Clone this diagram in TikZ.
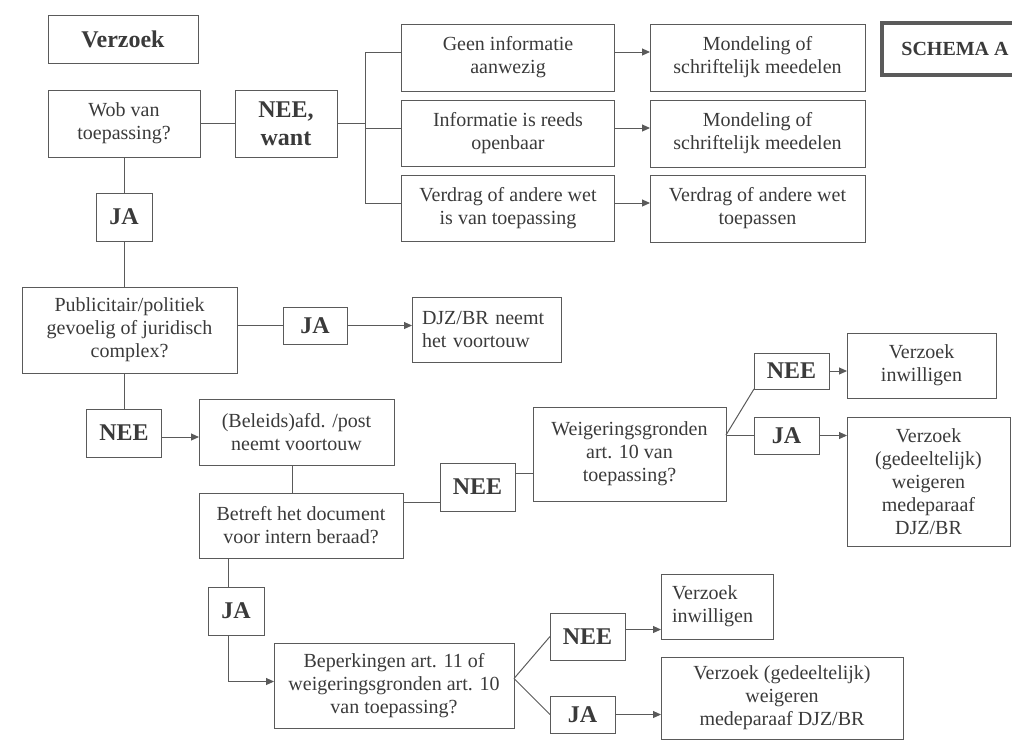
\documentclass[tikz,border=0pt]{standalone}
\usepackage{fontspec}
\setmainfont{Liberation Serif}
\usetikzlibrary{arrows.meta,calc}
\definecolor{inkC}{HTML}{3A3A3A}
\definecolor{lineC}{HTML}{5A5A5A}
\tikzset{
  box/.style={draw=lineC, line width=1pt, inner sep=0pt, outer sep=0pt,
    align=center, text=inkC, font=\fontsize{20}{23}\selectfont},
  lbox/.style={box, align=left},
  tag/.style={box, font=\fontsize{24}{28}\selectfont\bfseries},
  link/.style={draw=lineC, line width=1pt},
  arr/.style={link, -{Triangle[length=8pt,width=7pt]}},
}
\begin{document}
\begin{tikzpicture}[x=1pt, y=-1pt]
\useasboundingbox (0,0) rectangle (1012,740);
\clip (0,0) rectangle (1012,740);

% --- top: request and Wob check ---
\node[tag, minimum width=150pt, minimum height=48pt] (verzoek) at (123,39) {Verzoek};
\node[tag, line width=3.5pt, font=\fontsize{20}{23}\selectfont\bfseries,
      minimum width=150pt, minimum height=52pt] (schema) at (957,49) {SCHEMA A\hspace*{4pt}};
\node[box, minimum width=152pt, minimum height=67pt] (wob) at (124,123.5) {Wob van\\toepassing?};
\node[tag, minimum width=102pt, minimum height=67pt] (neewant) at (286,123.5) {NEE,\\want};

\node[box, minimum width=213pt, minimum height=67pt] (geen) at (508,57.5) {Geen informatie\\aanwezig};
\node[box, minimum width=213pt, minimum height=66pt] (info) at (508,133) {Informatie is reeds\\openbaar};
\node[box, minimum width=213pt, minimum height=66pt] (verdrag) at (508,208) {Verdrag of andere wet\\is van toepassing};
\node[box, minimum width=215pt, minimum height=67pt] (mond1) at (757.5,57.5) {Mondeling of\\schriftelijk meedelen};
\node[box, minimum width=215pt, minimum height=67pt] (mond2) at (757.5,133.5) {Mondeling of\\schriftelijk meedelen};
\node[box, minimum width=215pt, minimum height=67pt] (verdrag2) at (757.5,208.5) {Verdrag of andere wet\\toepassen};

\coordinate (jt) at (365,52);
\coordinate (jm) at (365,123.5);
\coordinate (jb) at (365,203);
\draw[link] (wob) -- (neewant);
\draw[link] (neewant) -- (jm);
\draw[link] (jt) -- (jb);
\draw[link] (jt) -- (jt -| geen.west);
\draw[link] ([yshift=5pt]info.west -| jm) -- ([yshift=5pt]info.west);
\draw[link] (jb) -- (jb -| verdrag.west);
\draw[arr] (jt -| geen.east) -- (jt -| mond1.west);
\draw[arr] ([yshift=5pt]info.east) -- ([yshift=5pt]info.east -| mond2.west);
\draw[arr] (jb -| verdrag.east) -- (jb -| verdrag2.west);

% --- Wob applies ---
\node[tag, minimum width=56pt, minimum height=48pt] (ja1) at (124,217) {JA};
\node[box, minimum width=215pt, minimum height=86pt] (pub) at (129.5,330) {Publicitair/politiek\\gevoelig of juridisch\\complex?};
\node[tag, minimum width=64pt, minimum height=37pt] (ja2) at (315,325.5) {JA};
\node[lbox, text width=129pt, minimum width=149pt, minimum height=65pt] (djz) at (486.5,329.5) {DJZ/BR neemt\\het voortouw};
\node[tag, minimum width=75pt, minimum height=48pt] (nee1) at (124,433) {NEE};
\node[box, minimum width=195pt, minimum height=66pt] (bel) at (296.5,432) {(Beleids)afd. /post\\neemt voortouw};

\draw[link] (wob.south) -- (ja1.north);
\draw[link] (ja1.south) -- (ja1.south |- pub.north);
\draw[link] (ja1.south |- pub.south) -- (nee1.north);
\draw[link] (pub.east |- ja2) -- (ja2.west);
\draw[arr] (ja2.east) -- (ja2.east -| djz.west);
\draw[arr] ([yshift=-4pt]nee1.east) -- ([yshift=-4pt]nee1.east -| bel.west);

% --- internal deliberation ---
\node[box, minimum width=204pt, minimum height=65pt] (bet) at (301,525.5) {Betreft het document\\voor intern beraad?};
\node[tag, minimum width=75pt, minimum height=48pt] (nee2) at (477.5,487) {NEE};
\node[box, minimum width=193pt, minimum height=94pt] (weig) at (629.5,454) {Weigeringsgronden\\art. 10 van\\toepassing?};
\node[tag, minimum width=75pt, minimum height=36pt] (nee3) at (791.5,371) {NEE};
\node[tag, minimum width=65pt, minimum height=37pt] (ja3) at (786.5,435.5) {JA};
\node[box, minimum width=149pt, minimum height=65pt] (inw1) at (921.5,365.5) {Verzoek\\inwilligen};
\node[box, minimum width=163pt, minimum height=129pt] (big1) at (928.5,481.5) {Verzoek\\(gedeeltelijk)\\weigeren\\medeparaaf\\DJZ/BR};

\draw[link] ([xshift=-4.5pt]bel.south) -- ([xshift=-4.5pt]bel.south |- bet.north);
\draw[link] ([yshift=-15pt]nee2.west -| bet.east) -- ([yshift=-15pt]nee2.west);
\draw[link] ([yshift=14pt]nee2.east) -- ([yshift=14pt]nee2.east -| weig.west);
\coordinate (wb) at ([yshift=19pt]weig.east);
\draw[link] (wb) -- (wb -| ja3.west);
\draw[link] (wb) -- (nee3.south west);
\draw[arr] (nee3.east) -- (nee3.east -| inw1.west);
\draw[arr] (ja3.east) -- (ja3.east -| big1.west);

% --- restrictions art. 11 ---
\node[tag, minimum width=56pt, minimum height=48pt] (ja4) at (236,611) {JA};
\node[box, minimum width=240pt, minimum height=85pt] (bep) at (394,685.5) {Beperkingen art. 11 of\\weigeringsgronden art. 10\\van toepassing?};
\node[tag, minimum width=75pt, minimum height=47pt] (nee4) at (587.5,636.5) {NEE};
\node[tag, minimum width=65pt, minimum height=37pt] (ja5) at (582.5,714.5) {JA};
\node[lbox, text width=90pt, minimum width=112pt, minimum height=65pt] (inw2) at (717,606.5) {Verzoek\\inwilligen};
\node[box, minimum width=242pt, minimum height=82pt] (big2) at (782,698) {Verzoek (gedeeltelijk)\\weigeren\\medeparaaf DJZ/BR};

\draw[link] ([xshift=-8pt]ja4.north |- bet.south) -- ([xshift=-8pt]ja4.north);
\draw[arr] ([xshift=-8pt]ja4.south) |- ([yshift=4pt]bep.west);
\draw[link] ([yshift=7pt]bep.east) -- (nee4.west);
\draw[link] ([yshift=7pt]bep.east) -- (ja5.west);
\draw[arr] ([yshift=7pt]nee4.east) -- ([yshift=7pt]nee4.east -| inw2.west);
\draw[arr] (ja5.east) -- (ja5.east -| big2.west);
\end{tikzpicture}
\end{document}
